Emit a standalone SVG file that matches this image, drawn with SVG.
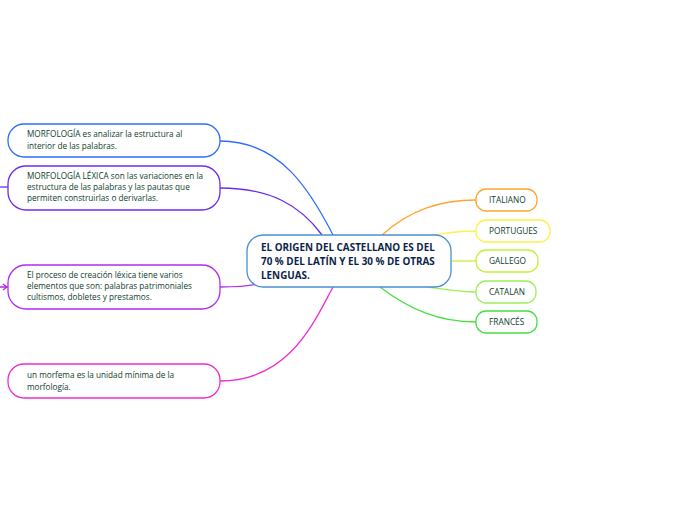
<svg xmlns="http://www.w3.org/2000/svg" width="696" height="520" viewBox="0 0 696 520">
<style>
.t{font-family:"Open Sans","Noto Sans",sans-serif;font-size:8.2px;fill:#0f3d2c}
.c{font-family:"Open Sans","Noto Sans",sans-serif;font-size:9.9px;font-weight:bold;fill:#0c1f4a}
.r{font-family:"Open Sans","Noto Sans",sans-serif;font-size:8.3px;fill:#0f3d2c}
.n{fill:#fff;stroke-width:1.3}
.l{fill:none;stroke-width:1.3}
</style>
<rect width="696" height="520" fill="#fff"/>
<g id="connectors">
<path class="l" stroke="#2f6bff" d="M220,141 C280,141 310,190 333,235"/>
<path class="l" stroke="#6a2cf0" d="M220,188 C270,188 300,205 322,235"/>
<path class="l" stroke="#b02cf0" d="M220,287 C240,287 250,286 258,284"/>
<path class="l" stroke="#f02cd0" d="M220,381 C290,381 315,320 333,287"/>
<path class="l" stroke="#ffa52e" d="M382,235 C410,210 440,200 476,200"/>
<path class="l" stroke="#fff04a" d="M432,235 C450,233 460,231 476,231"/>
<path class="l" stroke="#c4f03a" d="M451,261 L476,261"/>
<path class="l" stroke="#9af05a" d="M428,287 C450,290 460,292 476,292"/>
<path class="l" stroke="#44e040" d="M380,287 C410,310 440,322 476,322"/>
<path class="l" stroke="#6a2cf0" d="M0,187 L8,187"/>
<path class="l" stroke="#b02cf0" d="M0,287 L8,287 M3,284 L7,287 L3,290"/>
</g>
<g id="center">
<rect class="n" x="247" y="235" width="204" height="52" rx="16" stroke="#4a90d0"/>
<text class="c" x="261" y="251">EL ORIGEN DEL CASTELLANO ES DEL</text>
<text class="c" x="261" y="265">70 % DEL LATÍN Y EL 30 % DE OTRAS</text>
<text class="c" x="261" y="279">LENGUAS.</text>
</g>
<g id="n1">
<rect class="n" x="8" y="124" width="212" height="33" rx="16" stroke="#2f6bff"/>
<text class="t" x="27" y="137">MORFOLOGÍA es analizar la estructura al</text>
<text class="t" x="27" y="149">interior de las palabras.</text>
</g>
<g id="n2">
<rect class="n" x="8" y="166" width="212" height="44" rx="18" stroke="#6a2cf0"/>
<text class="t" x="27" y="179">MORFOLOGÍA LÉXICA son las variaciones en la</text>
<text class="t" x="27" y="190">estructura de las palabras y las pautas que</text>
<text class="t" x="27" y="201">permiten construirlas o derivarlas.</text>
</g>
<g id="n3">
<rect class="n" x="8" y="265" width="212" height="44" rx="18" stroke="#b02cf0"/>
<text class="t" x="27" y="278">El proceso de creación léxica tiene varios</text>
<text class="t" x="27" y="289">elementos que son: palabras patrimoniales</text>
<text class="t" x="27" y="300">cultismos, dobletes y prestamos.</text>
</g>
<g id="n4">
<rect class="n" x="8" y="364" width="212" height="34" rx="16" stroke="#f02cd0"/>
<text class="t" x="27" y="378">un morfema es la unidad mínima de la</text>
<text class="t" x="27" y="390">morfología.</text>
</g>
<g id="italiano">
<rect class="n" x="476" y="189" width="61" height="22" rx="10" stroke="#ffa52e"/>
<text class="r" x="489" y="203">ITALIANO</text>
</g>
<g id="portugues">
<rect class="n" x="476" y="220" width="74" height="22" rx="10" stroke="#fff04a"/>
<text class="r" x="489" y="234">PORTUGUES</text>
</g>
<g id="gallego">
<rect class="n" x="476" y="250" width="62" height="22" rx="10" stroke="#c4f03a"/>
<text class="r" x="489" y="264">GALLEGO</text>
</g>
<g id="catalan">
<rect class="n" x="476" y="281" width="60" height="22" rx="10" stroke="#9af05a"/>
<text class="r" x="489" y="295">CATALAN</text>
</g>
<g id="frances">
<rect class="n" x="476" y="311" width="61" height="22" rx="10" stroke="#44e040"/>
<text class="r" x="489" y="325">FRANCÉS</text>
</g>
</svg>
